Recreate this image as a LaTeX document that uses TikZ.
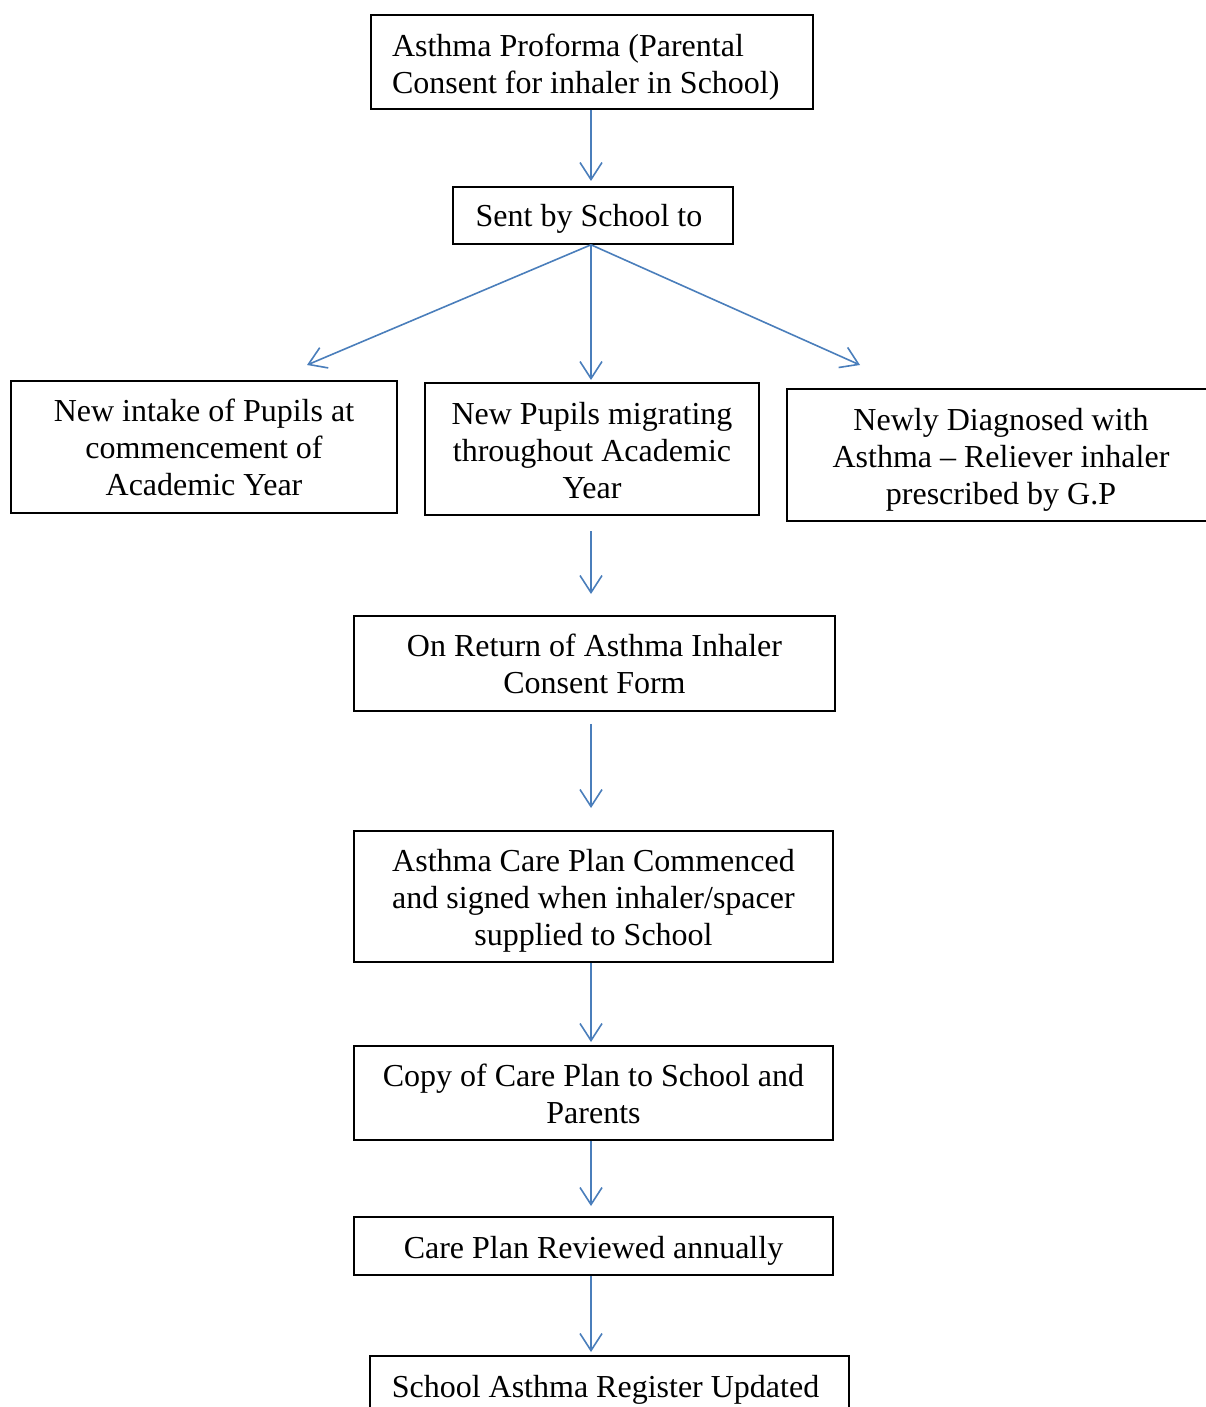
\documentclass[tikz,border=0pt]{standalone}
\usepackage{fontspec}
\setmainfont{Liberation Serif}
\usetikzlibrary{arrows.meta}
\definecolor{flowblue}{HTML}{4A7EBB}
\tikzset{
  box/.style={draw, line width=1.6pt, inner sep=0pt, align=flush center,
              font=\fontsize{32}{37}\selectfont},
  drop/.style={execute at begin node={\rule{0pt}{#1}}},
  flow/.style={draw=flowblue, line width=1.6pt,
               -{Straight Barb[length=17pt, width=22pt, line width=1.6pt]}}
}
\begin{document}
\begin{tikzpicture}[x=1pt, y=-1pt]
  \useasboundingbox (0,0) rectangle (1206,1407);
  % boxes
  \node[box, drop=32pt, minimum width=442pt, minimum height=94pt, text width=400pt, align=flush left]
        (proforma) at (592,62) {Asthma Proforma (Parental\\Consent for inhaler in School)};
  \node[box, drop=28pt, minimum width=280pt, minimum height=57pt] (sent) at (593,215.5) {Sent by School to\ };
  \node[box, minimum width=386pt, minimum height=132pt, text width=370pt] (intake) at (204,447)
        {New intake of Pupils at\\commencement of\\Academic Year};
  \node[box, drop=26pt, minimum width=334pt, minimum height=132pt, text width=320pt] (migrating) at (592,449)
        {New Pupils migrating\\throughout Academic\\Year};
  \node[box, drop=32pt, minimum width=428pt, minimum height=132pt, text width=410pt] (diagnosed) at (1001,455)
        {Newly Diagnosed with\\Asthma -- Reliever inhaler\\prescribed by G.P};
  \node[box, drop=24pt, minimum width=481pt, minimum height=95pt, text width=460pt] (return) at (594.5,663.5)
        {On Return of Asthma Inhaler\\Consent Form};
  \node[box, drop=30pt, minimum width=479pt, minimum height=131pt, text width=460pt] (commenced) at (593.5,896.5)
        {Asthma Care Plan Commenced\\and signed when inhaler/spacer\\supplied to School};
  \node[box, drop=24pt, minimum width=479pt, minimum height=94pt, text width=460pt] (copy) at (593.5,1093)
        {Copy of Care Plan to School and\\Parents};
  \node[box, drop=32pt, minimum width=479pt, minimum height=58pt] (reviewed) at (593.5,1246)
        {Care Plan Reviewed annually};
  \node[box, drop=32pt, minimum width=479pt, minimum height=58pt] (register) at (609.5,1385)
        {School Asthma Register Updated\ };
  % free ends of the arrows
  \coordinate (toleft)  at (307,365);
  \coordinate (tomid)   at (591,380);
  \coordinate (toright) at (860,365);
  \coordinate (merge)   at (591,531);
  % arrows
  \draw[flow] (proforma.south -| 591,0) -- (591,181);
  \draw[flow] (sent.south -| 591,0) -- (toleft);
  \draw[flow] (sent.south -| 591,0) -- (tomid);
  \draw[flow] (sent.south -| 591,0) -- (toright);
  \draw[flow] (merge) -- (591,594);
  \draw[flow] (return.south -| 591,0) ++(0,12) -- (591,808);
  \draw[flow] (commenced.south -| 591,0) -- (591,1042);
  \draw[flow] (copy.south -| 591,0) -- (591,1206);
  \draw[flow] (reviewed.south -| 591,0) -- (591,1352);
\end{tikzpicture}
\end{document}
